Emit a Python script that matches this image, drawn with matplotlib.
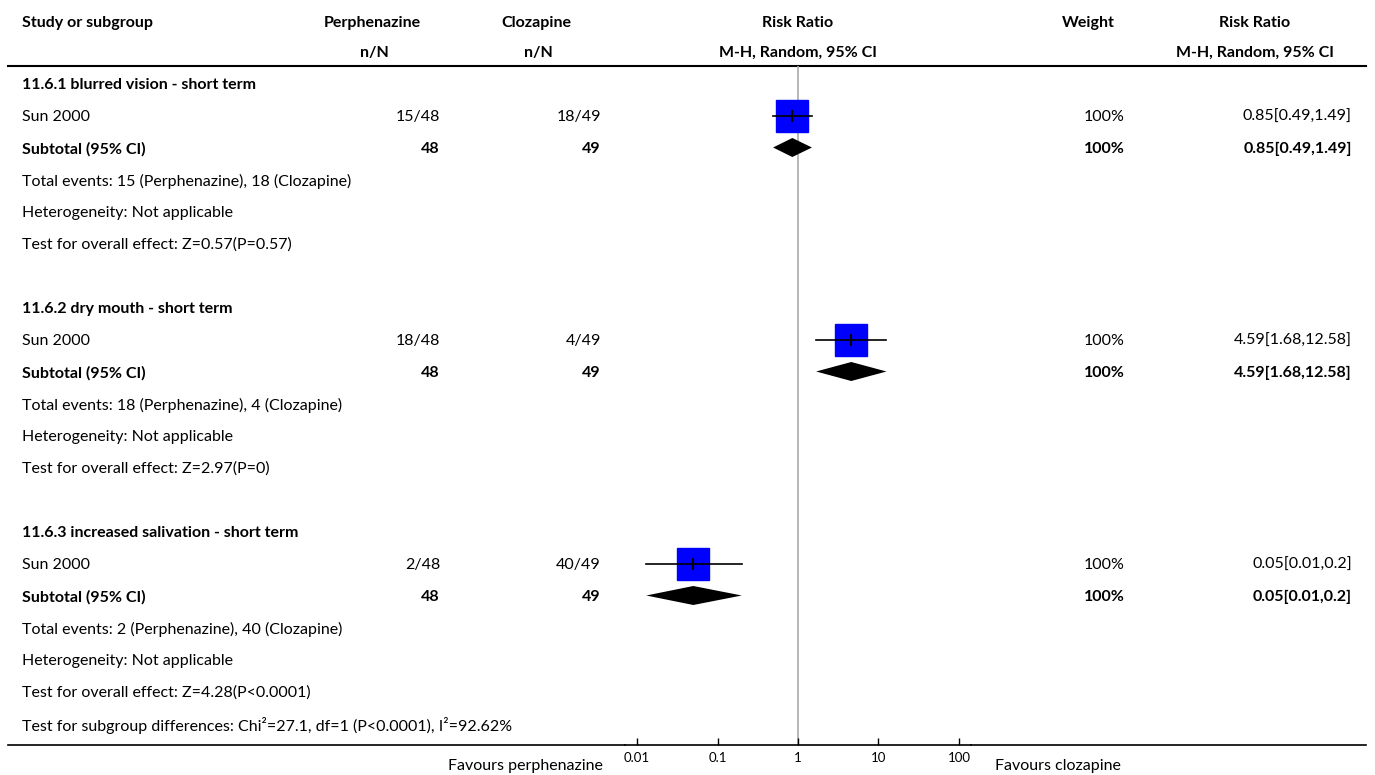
import matplotlib
matplotlib.use("Agg")
import matplotlib.pyplot as plt
import numpy as np

plt.rcParams['font.family'] = ['Lato', 'DejaVu Sans']

########################################################################################################################
# Data

subgroups = ["11.6.1 blurred vision - short term",
             "11.6.2 dry mouth - short term",
             "11.6.3 increased salivation - short term"]
study_names = ["Sun 2000", "Sun 2000", "Sun 2000"]
perph_events = [15, 18, 2]
perph_total = [48, 48, 48]
cloz_events = [18, 4, 40]
cloz_total = [49, 49, 49]
rr = [0.85, 4.59, 0.05]
ci_low = [0.49, 1.68, 0.013]
ci_high = [1.49, 12.58, 0.2]
rr_labels = ["0.85[0.49,1.49]", "4.59[1.68,12.58]", "0.05[0.01,0.2]"]
weights = ["100%", "100%", "100%"]
overall_tests = ["Z=0.57(P=0.57)", "Z=2.97(P=0)", "Z=4.28(P<0.0001)"]
subgroup_test = "Test for subgroup differences: Chi\u00b2=27.1, df=1 (P<0.0001), I\u00b2=92.62%"
ticks = [0.01, 0.1, 1, 10, 100]
tick_labels = ["0.01", "0.1", "1", "10", "100"]

########################################################################################################################
# Layout (pixel units)

W, H = 1375, 775
fs = 11.5
row0, row_step = 85, 32.0
x_study = 22
x_perph, x_cloz = 440, 601
x_weight, x_rr = 1125, 1352
ax_left, ax_right, ax_top, ax_bottom = 625, 971, 66, 745

fig = plt.figure(figsize=(W / 100, H / 100), dpi=100)
ax = fig.add_axes([0, 0, 1, 1])
ax.set_xlim(0, W)
ax.set_ylim(H, 0)
ax.axis("off")

fa = fig.add_axes([ax_left / W, (H - ax_bottom) / H, (ax_right - ax_left) / W, (ax_bottom - ax_top) / H])
fa.set_xscale("log")
fa.set_xlim(10 ** -2.15, 10 ** 2.15)
fa.set_ylim(ax_bottom, ax_top)
fa.patch.set_alpha(0)
for s in ["top", "left", "right"]:
    fa.spines[s].set_visible(False)
fa.spines["bottom"].set_linewidth(1.2)
fa.set_yticks([])
fa.set_xticks(ticks)
fa.set_xticklabels(tick_labels)
fa.minorticks_off()
fa.tick_params(axis="x", direction="in", length=5, width=1, pad=5, labelsize=9.5)
fa.axvline(1, color="#aaaaaa", lw=1.2, zorder=0)

# header
def bold(x, y, s, ha="left"):
    ax.text(x, y, s, fontsize=fs, fontweight="bold", va="center", ha=ha)

bold(x_study, 23, "Study or subgroup")
bold(372, 23, "Perphenazine", "center")
bold(374, 53, "n/N", "center")
bold(536, 23, "Clozapine", "center")
bold(538, 53, "n/N", "center")
bold(798, 23, "Risk Ratio", "center")
bold(798, 53, "M-H, Random, 95% CI", "center")
bold(1088, 23, "Weight", "center")
bold(1255, 23, "Risk Ratio", "center")
bold(1255, 53, "M-H, Random, 95% CI", "center")
ax.plot([8, 1366], [66, 66], color="black", lw=1.5)
ax.plot([8, ax_left], [ax_bottom, ax_bottom], color="black", lw=1.2)
ax.plot([ax_right, 1366], [ax_bottom, ax_bottom], color="black", lw=1.2)

# rows
for g in range(len(subgroups)):
    base = g * 7
    y = lambda k: row0 + (base + k) * row_step
    ym = lambda k: y(k) - 1.5
    bold(x_study, y(0), subgroups[g])

    # study row
    ax.text(x_study, y(1), study_names[g], fontsize=fs, va="center")
    ax.text(x_perph, y(1), "{}/{}".format(perph_events[g], perph_total[g]), fontsize=fs, va="center", ha="right")
    ax.text(x_cloz, y(1), "{}/{}".format(cloz_events[g], cloz_total[g]), fontsize=fs, va="center", ha="right")
    ax.text(x_weight, y(1), weights[g], fontsize=fs, va="center", ha="right")
    ax.text(x_rr, y(1), rr_labels[g], fontsize=fs, va="center", ha="right")
    fa.plot([rr[g]], [ym(1)], marker="s", markersize=22.5, color="#0000ff", zorder=2)
    fa.plot([ci_low[g], ci_high[g]], [ym(1), ym(1)], color="black", lw=1.2, zorder=3)
    fa.plot([rr[g]], [ym(1)], marker="|", markersize=9, markeredgewidth=1.5, color="black", zorder=4)

    # subtotal row
    bold(x_study, y(2), "Subtotal (95% CI)")
    bold(x_perph, y(2), str(perph_total[g]), "right")
    bold(x_cloz, y(2), str(cloz_total[g]), "right")
    bold(x_weight, y(2), weights[g], "right")
    bold(x_rr, y(2), rr_labels[g], "right")
    fa.fill([ci_low[g], rr[g], ci_high[g], rr[g]], [ym(2), ym(2) - 9.5, ym(2), ym(2) + 9.5],
            color="black", lw=0, zorder=2)

    ax.text(x_study, y(3), "Total events: {} (Perphenazine), {} (Clozapine)".format(perph_events[g], cloz_events[g]),
            fontsize=fs, va="center")
    ax.text(x_study, y(4), "Heterogeneity: Not applicable", fontsize=fs, va="center")
    ax.text(x_study, y(5), "Test for overall effect: " + overall_tests[g], fontsize=fs, va="center")

ax.text(x_study, row0 + 20 * row_step, subgroup_test, fontsize=fs, va="center")
ax.text(603, 766, "Favours perphenazine", fontsize=fs, va="center", ha="right")
ax.text(995, 766, "Favours clozapine", fontsize=fs, va="center", ha="left")

fig.savefig("out.png", dpi=100)
